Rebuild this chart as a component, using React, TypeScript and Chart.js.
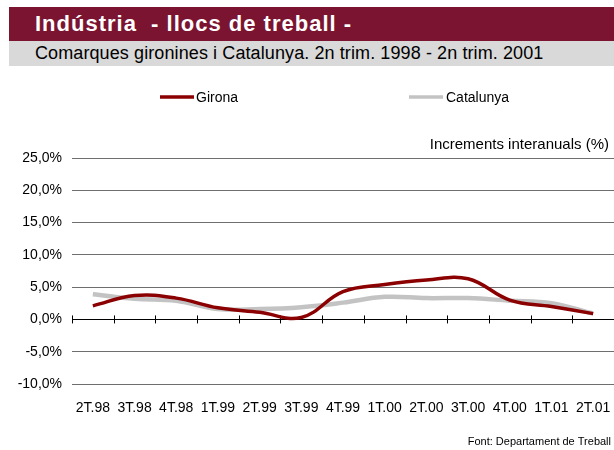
import React, { useEffect, useRef } from "react";
import { Chart, registerables } from "chart.js";

Chart.register(...registerables);

const categories = ["2T.98", "3T.98", "4T.98", "1T.99", "2T.99", "3T.99", "4T.99", "1T.00", "2T.00", "3T.00", "4T.00", "1T.01", "2T.01"];
const gironaValues = [2.1, 3.7, 3.3, 1.8, 1.1, 0.3, 4.3, 5.4, 6.1, 6.3, 3.0, 2.0, 0.9];
const catalunyaValues = [3.9, 3.2, 2.9, 1.6, 1.6, 1.9, 2.6, 3.5, 3.3, 3.3, 2.9, 2.5, 0.9];
const seriesNames = ["Girona", "Catalunya"];
const yMin = -10;
const yMax = 25;
const yStep = 5;

const titleText = "Indústria  - llocs de treball -";
const subtitleText = "Comarques gironines i Catalunya. 2n trim. 1998 - 2n trim. 2001";
const unitText = "Increments interanuals (%)";
const sourceText = "Font: Departament de Treball";

const FONT = "'Liberation Sans', Arial, sans-serif";

const decorPlugin = {
  id: "decor",
  beforeDatasetsDraw(chart: any) {
    const { ctx, chartArea, scales } = chart;
    const y0 = scales.y.getPixelForValue(0);
    const n = chart.data.labels.length;
    const w = (chartArea.right - chartArea.left) / n;
    ctx.save();
    ctx.strokeStyle = "#000";
    ctx.lineWidth = 1;
    ctx.beginPath();
    for (let i = 0; i < n; i++) {
      const x = Math.round(chartArea.left + i * w) + 0.5;
      ctx.moveTo(x, y0 - 4);
      ctx.lineTo(x, y0 + 4);
    }
    ctx.stroke();
    ctx.restore();
  },
  afterDraw(chart: any) {
    const { ctx } = chart;
    ctx.save();
    const ds = chart.data.datasets;
    const items = [
      { x1: 160, x2: 194, tx: 196 },
      { x1: 409, x2: 443, tx: 446 },
    ];
    ctx.font = `14px ${FONT}`;
    ctx.textBaseline = "middle";
    ctx.textAlign = "left";
    items.forEach((it, i) => {
      ctx.strokeStyle = ds[i].borderColor;
      ctx.lineWidth = 3.5;
      ctx.beginPath();
      ctx.moveTo(it.x1, 97);
      ctx.lineTo(it.x2, 97);
      ctx.stroke();
      ctx.fillStyle = "#000";
      ctx.fillText(ds[i].label, it.tx, 98);
    });
    ctx.textAlign = "right";
    ctx.font = `15px ${FONT}`;
    ctx.fillText(unitText, 609, 145);
    ctx.font = `11px ${FONT}`;
    ctx.fillText(sourceText, 611, 442);
    ctx.restore();
  },
};

export default function App() {
  const ref = useRef<HTMLCanvasElement | null>(null);

  useEffect(() => {
    if (!ref.current) return;
    const chart = new Chart(ref.current, {
      type: "line",
      data: {
        labels: categories,
        datasets: [
          {
            label: seriesNames[0],
            data: gironaValues,
            borderColor: "#8b0000",
            backgroundColor: "#8b0000",
            borderWidth: 3.5,
            pointRadius: 0,
            tension: 0.4,
          },
          {
            label: seriesNames[1],
            data: catalunyaValues,
            borderColor: "#c3c3c3",
            backgroundColor: "#c3c3c3",
            borderWidth: 4.5,
            pointRadius: 0,
            tension: 0.4,
          },
        ],
      },
      options: {
        responsive: false,
        animation: false,
        devicePixelRatio: 1,
        layout: { padding: { top: 158, left: 0, right: 0, bottom: 0 } },
        plugins: {
          legend: { display: false },
          title: { display: false },
          tooltip: { enabled: false },
        },
        scales: {
          x: {
            offset: true,
            grid: { display: false },
            border: { display: false },
            ticks: {
              color: "#000",
              font: { family: FONT, size: 14 },
              padding: 8,
              maxRotation: 0,
              autoSkip: false,
            },
            afterFit(scale: any) {
              scale.height = 66;
              scale.paddingLeft = 0;
              scale.paddingRight = 0;
            },
          },
          y: {
            min: yMin,
            max: yMax,
            border: { display: false },
            grid: {
              color: (c: any) => (c.tick && c.tick.value === 0 ? "#000" : "#6e6e6e"),
              lineWidth: 1,
              drawTicks: false,
            },
            ticks: {
              stepSize: yStep,
              color: "#000",
              font: { family: FONT, size: 14 },
              padding: 10,
              callback: (v: any) => Number(v).toFixed(1).replace(".", ",") + "%",
            },
            afterFit(scale: any) {
              scale.width = 72;
              scale.paddingTop = 0;
              scale.paddingBottom = 0;
            },
          },
        },
      },
      plugins: [decorPlugin],
    });
    return () => chart.destroy();
  }, []);

  return (
    <div style={{ position: "absolute", left: 0, top: 0, width: 614, height: 450, background: "#fff", overflow: "hidden" }}>
      <div
        style={{
          position: "absolute",
          left: 9,
          top: 7,
          width: 605,
          height: 34,
          background: "#7a1430",
          color: "#fff",
          fontFamily: FONT,
          fontWeight: "bold",
          fontSize: 22,
          letterSpacing: 1,
          lineHeight: "34px",
          paddingLeft: 26,
          boxSizing: "border-box",
          whiteSpace: "pre",
        }}
      >
        {titleText}
      </div>
      <div
        style={{
          position: "absolute",
          left: 9,
          top: 41,
          width: 605,
          height: 25,
          background: "#d9d9d9",
          color: "#000",
          fontFamily: FONT,
          fontSize: 18,
          letterSpacing: 0.1,
          lineHeight: "25px",
          paddingLeft: 26,
          boxSizing: "border-box",
          whiteSpace: "pre",
        }}
      >
        {subtitleText}
      </div>
      <canvas ref={ref} width={614} height={450} style={{ position: "absolute", left: 0, top: 0 }} />
    </div>
  );
}
